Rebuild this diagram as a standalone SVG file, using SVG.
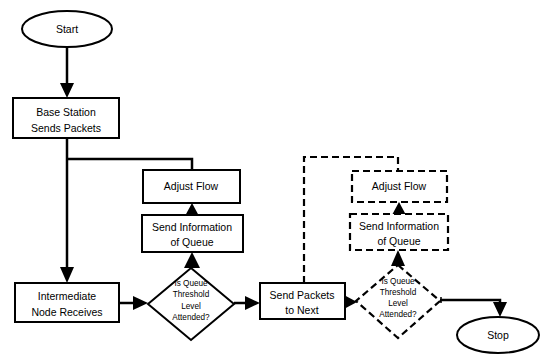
<svg xmlns="http://www.w3.org/2000/svg" width="541" height="354" viewBox="0 0 541 354">
<style>
.n{fill:#fff;stroke:#000;stroke-width:2}
.d{fill:#fff;stroke:#000;stroke-width:2.2;stroke-dasharray:7,4}
.c{fill:none;stroke:#000;stroke-width:2.5}
.cd{fill:none;stroke:#000;stroke-width:2.2;stroke-dasharray:7,4}
.a{fill:#000;stroke:none}
text{font-family:"Liberation Sans",Arial,sans-serif;font-size:10.5px;fill:#000;text-anchor:middle}
.s{font-size:8.2px}
</style>
<rect width="541" height="354" fill="#fff"/>
<g id="connectors">
<line class="c" x1="67" y1="47" x2="67" y2="85"/>
<polygon class="a" points="60,83 74,83 67,98"/>
<line class="c" x1="67" y1="138" x2="67" y2="269"/>
<polygon class="a" points="60,267 74,267 67,283"/>
<polyline class="c" points="67,159 192,159 192,170"/>
<polygon class="a" points="185,216 199,216 192,203"/>
<polygon class="a" points="184,268 200,268 192,252"/>
<line class="c" x1="119" y1="303" x2="135" y2="303"/>
<polygon class="a" points="133,296 133,310 148,303"/>
<line class="c" x1="234" y1="303" x2="247" y2="303"/>
<polygon class="a" points="245,296 245,310 260,303"/>
<polygon class="a" points="344,295 344,309 357,302"/>
<polygon class="a" points="391,266 405,266 398,250"/>
<polygon class="a" points="392,215 406,215 399,202"/>
<polyline class="cd" points="304,283 304,157 398,157 398,171"/>
<polyline class="c" points="440,300 500,300 500,305"/>
<line class="c" x1="441" y1="297" x2="441" y2="303" style="stroke-width:1.5"/>
<polygon class="a" points="493,302 507,302 500,317"/>
</g>
<g id="start">
<ellipse class="n" cx="67" cy="29" rx="45" ry="18"/>
<text x="67" y="33">Start</text>
</g>
<g id="base">
<rect class="n" x="13" y="98" width="106" height="40"/>
<text x="66" y="116">Base Station</text>
<text x="66" y="132">Sends Packets</text>
</g>
<g id="intermediate">
<rect class="n" x="15" y="283" width="104" height="39"/>
<text x="67" y="300">Intermediate</text>
<text x="67" y="316">Node Receives</text>
</g>
<g id="adjust1">
<rect class="n" x="143" y="170" width="97" height="33"/>
<text x="191" y="190">Adjust Flow</text>
</g>
<g id="sendinfo1">
<rect class="n" x="142" y="215" width="101" height="37"/>
<text x="192" y="231">Send Information</text>
<text x="192" y="246">of Queue</text>
</g>
<g id="decision1">
<polygon class="n" points="191,268 234,304 191,340 148,304"/>
<text class="s" x="191" y="286">Is Queue</text>
<text class="s" x="191" y="297">Threshold</text>
<text class="s" x="191" y="309">Level</text>
<text class="s" x="191" y="320">Attended?</text>
</g>
<g id="sendpackets">
<rect class="n" x="260" y="283" width="85" height="36"/>
<text x="302" y="299">Send Packets</text>
<text x="302" y="314">to Next</text>
</g>
<g id="decision2">
<polygon class="d" points="398,265 440,301 398,338 356,301"/>
<text class="s" x="398" y="284">Is Queue</text>
<text class="s" x="398" y="295">Threshold</text>
<text class="s" x="398" y="306">Level</text>
<text class="s" x="398" y="317">Attended?</text>
</g>
<g id="sendinfo2">
<rect class="d" x="350" y="214" width="98" height="36"/>
<text x="399" y="230">Send Information</text>
<text x="399" y="245">of Queue</text>
</g>
<g id="adjust2">
<rect class="d" x="352" y="171" width="95" height="31"/>
<text x="399" y="190">Adjust Flow</text>
</g>
<g id="stop">
<ellipse class="n" cx="498" cy="335" rx="41" ry="18"/>
<text x="498" y="339">Stop</text>
</g>
</svg>
